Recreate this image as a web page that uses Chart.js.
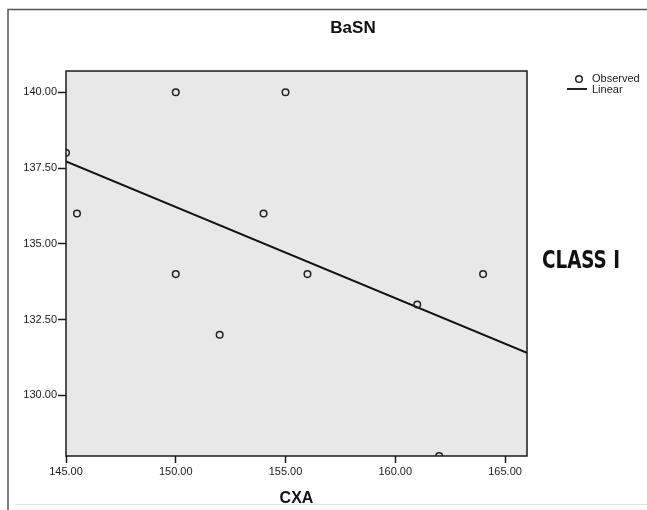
<!DOCTYPE html>
<html>
<head>
<meta charset="utf-8">
<script src="https://cdn.jsdelivr.net/npm/chart.js@4.4.1/dist/chart.umd.min.js"></script>
<style>
  html, body { margin: 0; padding: 0; background: #fff; }
  #wrap { width: 647px; height: 510px; }
</style>
</head>
<body>
<div id="wrap"><canvas id="basn" width="647" height="510"></canvas></div>
<script>
const cxa = [145, 145.5, 150, 150, 152, 154, 155, 156, 161, 162, 164];
const basn = [138, 136, 140, 134, 132, 136, 140, 134, 133, 128, 134];

// ends of the fitted (linear) line
const fitX = [145, 166];
const fitY = [137.72, 131.40];

const xTicks = [145, 150, 155, 160, 165];
const yTicks = [130, 132.5, 135, 137.5, 140];

const FONT = "'Liberation Sans', Arial, sans-serif";

Chart.defaults.font.family = FONT;
Chart.defaults.color = '#222';

const observed = cxa.map((x, i) => ({ x: x, y: basn[i] }));
const linear = fitX.map((x, i) => ({ x: x, y: fitY[i] }));

// plot box, outer frame, title, legend and side label
const frame = {
    id: 'frame',
    beforeDraw(chart) {
        const { ctx, chartArea: a } = chart;
        ctx.save();
        ctx.fillStyle = '#fff';
        ctx.fillRect(0, 0, chart.width, chart.height);
        ctx.fillStyle = '#e8e8e8';
        ctx.fillRect(a.left, a.top, a.width, a.height);

        ctx.strokeStyle = '#555';
        ctx.lineWidth = 1.5;
        ctx.beginPath();
        ctx.moveTo(8, chart.height);
        ctx.lineTo(8, 9.5);
        ctx.lineTo(chart.width, 9.5);
        ctx.stroke();

        ctx.strokeStyle = '#e2e2e2';
        ctx.lineWidth = 1;
        ctx.beginPath();
        ctx.moveTo(15, 504.5);
        ctx.lineTo(chart.width, 504.5);
        ctx.stroke();

        // title sits centred on the whole frame, not on the plot
        ctx.fillStyle = '#111';
        ctx.font = 'bold 17px ' + FONT;
        ctx.textAlign = 'center';
        ctx.textBaseline = 'middle';
        ctx.fillText('BaSN', 353, 28);
        ctx.restore();
    },
    afterDraw(chart) {
        const { ctx, chartArea: a } = chart;
        ctx.save();
        ctx.strokeStyle = '#1a1a1a';
        ctx.lineWidth = 1.5;
        ctx.strokeRect(a.left, a.top, a.width, a.height);

        // legend
        const lx = a.right + 40;
        ctx.lineWidth = 1.5;
        ctx.strokeStyle = '#222';
        ctx.beginPath();
        ctx.arc(lx + 12, a.top + 8, 3.3, 0, Math.PI * 2);
        ctx.stroke();
        ctx.lineWidth = 2;
        ctx.beginPath();
        ctx.moveTo(lx, a.top + 18);
        ctx.lineTo(lx + 20, a.top + 18);
        ctx.stroke();
        ctx.fillStyle = '#222';
        ctx.font = '11px ' + FONT;
        ctx.textBaseline = 'middle';
        ctx.textAlign = 'left';
        ctx.fillText('Observed', lx + 25, a.top + 7.5);
        ctx.fillText('Linear', lx + 25, a.top + 18.5);

        ctx.fillStyle = '#111';
        ctx.font = "bold 24px 'Liberation Sans Narrow', 'DejaVu Sans Condensed', sans-serif";
        ctx.fillText('CLASS I', a.right + 15, 262, 78);
        ctx.restore();
    }
};

new Chart(document.getElementById('basn'), {
    type: 'scatter',
    data: {
        datasets: [{
            label: 'Observed',
            data: observed,
            pointStyle: 'circle',
            pointRadius: 3.3,
            pointHoverRadius: 3.3,
            pointBorderWidth: 1.5,
            borderColor: '#222',
            backgroundColor: 'rgba(0, 0, 0, 0)',
            clip: 0
        }, {
            type: 'line',
            label: 'Linear',
            data: linear,
            borderColor: '#111',
            borderWidth: 2,
            pointRadius: 0,
            fill: false,
            clip: 0
        }]
    },
    options: {
        responsive: false,
        animation: false,
        events: [],
        layout: {
            padding: { top: 71, left: 0, right: 0, bottom: 0 }
        },
        plugins: {
            legend: { display: false },
            tooltip: { enabled: false },
            title: { display: false }
        },
        scales: {
            x: {
                type: 'linear',
                position: 'bottom',
                min: 145,
                max: 166,
                afterBuildTicks: scale => {
                    scale.ticks = xTicks.map(v => ({ value: v }));
                },
                afterFit: scale => {
                    scale.height = 54;
                    scale.paddingLeft = 0;
                    scale.paddingRight = 0;
                },
                grid: {
                    drawOnChartArea: false,
                    drawTicks: true,
                    tickLength: 7,
                    tickColor: '#1a1a1a',
                    tickWidth: 1.5
                },
                border: { display: false },
                ticks: {
                    padding: 2,
                    maxRotation: 0,
                    font: { size: 11 },
                    callback: v => Number(v).toFixed(2)
                },
                title: {
                    display: true,
                    text: 'CXA',
                    color: '#111',
                    font: { size: 16, weight: 'bold', lineHeight: 1.2 },
                    padding: { top: 0, bottom: 1.5 }
                }
            },
            y: {
                type: 'linear',
                position: 'left',
                min: 128,
                max: 140.7,
                afterBuildTicks: scale => {
                    scale.ticks = yTicks.map(v => ({ value: v }));
                },
                afterFit: scale => {
                    scale.width = 66;
                    scale.paddingTop = 0;
                    scale.paddingBottom = 0;
                },
                grid: {
                    drawOnChartArea: false,
                    drawTicks: true,
                    tickLength: 8,
                    tickColor: '#1a1a1a',
                    tickWidth: 1.5
                },
                border: { display: false },
                ticks: {
                    padding: 1,
                    font: { size: 11 },
                    callback: v => Number(v).toFixed(2)
                }
            },
            side: {
                type: 'linear',
                position: 'right',
                display: true,
                grid: { display: false, drawTicks: false },
                border: { display: false },
                ticks: { display: false },
                afterFit: scale => {
                    scale.width = 120;
                }
            }
        }
    },
    plugins: [frame]
});
</script>
</body>
</html>
